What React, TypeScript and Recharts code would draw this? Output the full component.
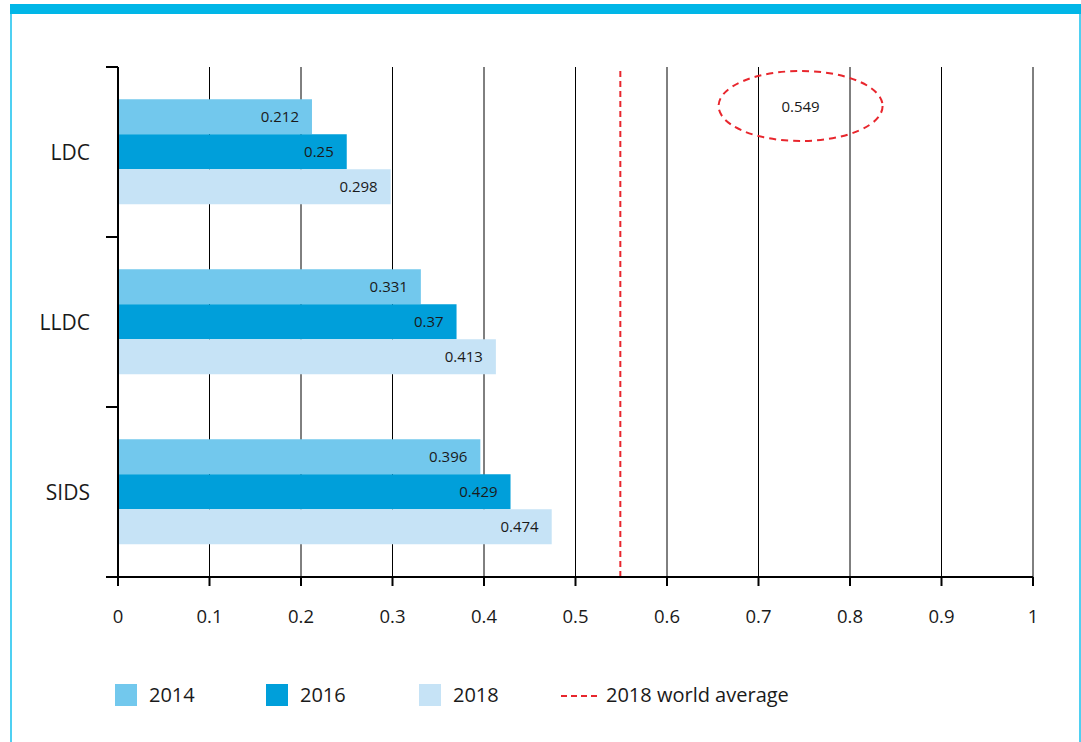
import React from 'react';
import { BarChart, Bar, XAxis, YAxis, CartesianGrid, ReferenceLine, ReferenceDot, LabelList } from 'recharts';

const categories = ['LDC', 'LLDC', 'SIDS'];
const values2014 = [0.212, 0.331, 0.396];
const values2016 = [0.25, 0.37, 0.429];
const values2018 = [0.298, 0.413, 0.474];
const xTicks = [0, 0.1, 0.2, 0.3, 0.4, 0.5, 0.6, 0.7, 0.8, 0.9, 1];
const worldAverage2018 = 0.549;
// where the callout ellipse sits on the value axis
const calloutX = 0.746;

const series = [
  { key: 'y2014', name: '2014', color: '#72c8ed' },
  { key: 'y2016', name: '2016', color: '#009fda' },
  { key: 'y2018', name: '2018', color: '#c6e3f6' },
];

const data = categories.map((name, i) => ({
  name,
  y2014: values2014[i],
  y2016: values2016[i],
  y2018: values2018[i],
}));

const FONT = '"Open Sans", "Noto Sans", sans-serif';
const TEXT = '#1a1a1a';
const RED = '#e8262d';

const CategoryTick = (props: any) => {
  const { x, y, payload } = props;
  const half = payload && payload.offset ? payload.offset : 85;
  return (
    <g>
      <line x1={x - 12} x2={x} y1={y - half} y2={y - half} stroke="#000" strokeWidth={2} />
      <line x1={x - 12} x2={x} y1={y + half} y2={y + half} stroke="#000" strokeWidth={2} />
      <text x={x - 28} y={y} dy={8} textAnchor="end" fill={TEXT} fontSize={21} fontFamily={FONT}>
        {payload.value}
      </text>
    </g>
  );
};

const Callout = (props: any) => {
  const { cx, cy } = props;
  return (
    <g>
      <ellipse cx={cx} cy={cy - 46} rx={82} ry={35} fill="none" stroke={RED} strokeWidth={2} strokeDasharray="7 5" />
      <text x={cx} y={cy - 40} textAnchor="middle" fill={TEXT} fontSize={15} fontFamily={FONT}>
        {worldAverage2018}
      </text>
    </g>
  );
};

const legendLeft = [115, 266, 419, 561];

export default function App() {
  return (
    <div style={{ position: 'absolute', left: 0, top: 0, width: 1081, height: 742, background: '#fff', fontFamily: FONT }}>
      <div style={{ position: 'absolute', left: 10, top: 4, width: 1071, height: 10, background: '#00b6e7' }} />
      <div style={{ position: 'absolute', left: 10, top: 14, width: 2, height: 728, background: '#4fd0f2' }} />
      <div style={{ position: 'absolute', left: 1079, top: 14, width: 2, height: 728, background: '#4fd0f2' }} />

      <div style={{ position: 'absolute', left: 0, top: 0 }}>
        <BarChart
          width={1081}
          height={742}
          data={data}
          layout="vertical"
          margin={{ top: 67, right: 48, bottom: 125, left: 58 }}
          barCategoryGap="19%"
          barGap={0}
        >
          <CartesianGrid horizontal={false} vertical stroke="#000" strokeWidth={1} />
          <XAxis
            type="number"
            domain={[0, 1]}
            ticks={xTicks}
            height={40}
            axisLine={{ stroke: '#000', strokeWidth: 2 }}
            tickLine={{ stroke: '#000', strokeWidth: 2 }}
            tickSize={9}
            tickMargin={24}
            tick={{ fill: TEXT, fontSize: 18.5, fontFamily: FONT }}
            interval={0}
          />
          <YAxis
            type="category"
            dataKey="name"
            width={60}
            axisLine={{ stroke: '#000', strokeWidth: 2 }}
            tickLine={false}
            tickSize={0}
            tickMargin={0}
            tick={<CategoryTick />}
          />
          {series.map((s) => (
            <Bar key={s.key} dataKey={s.key} name={s.name} fill={s.color} isAnimationActive={false}>
              <LabelList dataKey={s.key} position="insideRight" offset={13} fill={TEXT} fontSize={15} fontFamily={FONT} />
            </Bar>
          ))}
          <ReferenceLine x={worldAverage2018} stroke={RED} strokeWidth={2} strokeDasharray="6 4" />
          <ReferenceDot x={calloutX} y="LDC" r={0} shape={<Callout />} />
        </BarChart>
      </div>

      {series.map((s, i) => (
        <div key={s.key} style={{ position: 'absolute', left: legendLeft[i], top: 684, display: 'flex', alignItems: 'center' }}>
          <div style={{ width: 22, height: 22, background: s.color }} />
          <span style={{ marginLeft: 12, fontSize: 20, color: TEXT, lineHeight: '22px' }}>{s.name}</span>
        </div>
      ))}
      <div style={{ position: 'absolute', left: legendLeft[3], top: 684, display: 'flex', alignItems: 'center' }}>
        <svg width={38} height={22}>
          <line x1={0} x2={38} y1={12} y2={12} stroke={RED} strokeWidth={2} strokeDasharray="6 4" />
        </svg>
        <span style={{ marginLeft: 7, fontSize: 20, color: TEXT, lineHeight: '22px' }}>2018 world average</span>
      </div>
    </div>
  );
}
